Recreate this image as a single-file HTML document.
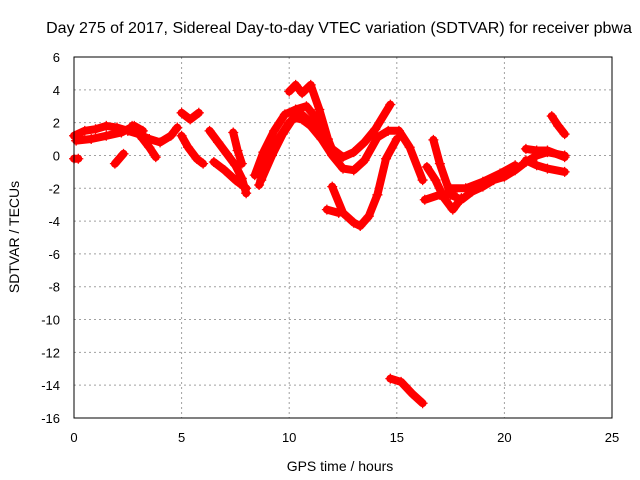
<!DOCTYPE html>
<html><head><meta charset="utf-8"><style>
body{margin:0;background:#fff}
svg{display:block;font-family:"Liberation Sans",sans-serif}
</style></head><body>
<svg id="chart" width="640" height="480" viewBox="0 0 640 480">
<text x="339" y="33" font-size="16" text-anchor="middle">Day 275 of 2017, Sidereal Day-to-day VTEC variation (SDTVAR) for receiver pbwa</text>
<text x="340" y="471" font-size="14" text-anchor="middle">GPS time / hours</text>
<text transform="translate(19,237) rotate(-90)" font-size="14" text-anchor="middle">SDTVAR / TECUs</text>
<g id="grid"></g><g id="marks"></g><g id="axes"></g>
</svg>
<script>
const xTicks=[0,5,10,15,20,25];
const yTicks=[6,4,2,0,-2,-4,-6,-8,-10,-12,-14,-16];
const arc1H=[0,0.5,1,1.5,2,2.5,3,3.5,4,4.5,4.8];
const arc1V=[1.2,1.5,1.6,1.8,1.7,1.5,1.3,1.0,0.8,1.2,1.7];
const arc2H=[0.1,0.8,1.5,2.2,2.8,3.2];
const arc2V=[0.9,1.0,1.2,1.4,1.8,1.5];
const arc3H=[0,0.2];const arc3V=[-0.2,-0.2];
const arc4H=[1.9,2.3];const arc4V=[-0.5,0.1];
const arc5H=[2.7,3.2,3.5,3.8];const arc5V=[1.8,1.0,0.5,-0.1];
const arc6H=[5,5.4,5.8];const arc6V=[2.6,2.2,2.6];
const arc7H=[5,5.3,5.7,6];const arc7V=[1.2,0.5,-0.2,-0.5];
const arc8H=[6.3,6.7,7.1,7.5,7.8,8.0];const arc8V=[1.5,0.8,0.1,-0.6,-1.4,-2.3];
const arc9H=[6.5,7,7.5,8];const arc9V=[-0.4,-0.9,-1.5,-2.0];
const arc10H=[7.4,7.6,7.8];const arc10V=[1.4,0.3,-0.5];
const arc11H=[8.6,9,9.5,10,10.5,11,11.5,12,12.5,13,13.5,14,14.7];
const arc11V=[-1.8,-0.3,1.0,2.0,2.6,2.0,1.2,0.4,-0.1,0.2,0.8,1.6,3.1];
const arc12H=[8.7,9.2,9.7,10.2,10.6,11.0,11.5,12.0,12.5,13.0,13.5,14.1,14.6,15.1,15.6,16.2];
const arc12V=[-1.5,0.0,1.3,2.3,2.2,1.8,1.0,0.0,-0.8,-0.9,-0.3,1.1,1.5,1.5,0.5,-1.5];
const arc13H=[10,10.3,10.6,11.0,11.4,11.8,12.2];
const arc13V=[3.9,4.3,3.8,4.3,2.8,1.0,-0.3];
const arc14H=[12.0,12.5,13.0,13.3,13.7,14.1,14.5,15.0];
const arc14V=[-1.9,-3.5,-4.1,-4.3,-3.7,-2.4,-0.2,1.0];
const arc15H=[11.75,12.3];const arc15V=[-3.3,-3.5];
const arc16H=[14.7,15.2,15.7,16.2];const arc16V=[-13.6,-13.8,-14.5,-15.1];
const arc17H=[16.7,17.0,17.5,18.0,18.5,19,19.5,20,20.5,21,21.5,22,22.8];
const arc17V=[0.95,-0.5,-2.4,-2.7,-2.2,-1.9,-1.5,-1.3,-0.9,-0.4,0.0,0.2,0.0];
const arc18H=[16.4,16.8,17.2,17.6,18.0];const arc18V=[-0.7,-1.5,-2.6,-3.3,-2.6];
const arc19H=[16.3,17.0,17.6];const arc19V=[-2.7,-2.4,-2.3];
const arc20H=[21,21.5,22,22.8];const arc20V=[-0.3,-0.6,-0.8,-1.0];
const arc21H=[21,21.5,22,22.8];const arc21V=[0.4,0.3,0.3,-0.1];
const arc22H=[22.2,22.5,22.8];const arc22V=[2.4,1.8,1.3];
const arc23H=[8.4,8.8,9.3,9.8,10.3,10.8,11.3,11.8];
const arc23V=[-1.2,0.2,1.5,2.5,2.8,3.0,2.2,0.8];
const arc24H=[17.5,18.2,19,19.8,20.5];
const arc24V=[-2.0,-2.0,-1.6,-1.1,-0.6];
const arcsH=[arc1H,arc2H,arc3H,arc4H,arc5H,arc6H,arc7H,arc8H,arc9H,arc10H,arc11H,arc12H,arc13H,arc14H,arc15H,arc16H,arc17H,arc18H,arc19H,arc20H,arc21H,arc22H,arc23H,arc24H];
const arcsV=[arc1V,arc2V,arc3V,arc4V,arc5V,arc6V,arc7V,arc8V,arc9V,arc10V,arc11V,arc12V,arc13V,arc14V,arc15V,arc16V,arc17V,arc18V,arc19V,arc20V,arc21V,arc22V,arc23V,arc24V];

const L=74,R=612,T=57,B=418,NS="http://www.w3.org/2000/svg";
const xs=h=>L+(h-0)/25*(R-L);
const ys=v=>T+(6-v)/22*(B-T);
function mk(tag,at,parent){const e=document.createElementNS(NS,tag);for(const k in at)e.setAttribute(k,at[k]);parent.appendChild(e);return e;}
const grid=document.getElementById('grid'),axes=document.getElementById('axes'),marks=document.getElementById('marks');
xTicks.forEach(t=>{
  const x=xs(t);
  if(t>0&&t<25){const g=mk('line',{x1:x,y1:T,x2:x,y2:B,stroke:'#a0a0a0','stroke-dasharray':'2,3'},grid);
  
  }
  const tx=mk('text',{x:x,y:B+24,'font-size':13,'text-anchor':'middle'},axes);tx.textContent=t;
  
  
});
yTicks.forEach(t=>{
  const y=ys(t);
  if(t<6&&t>-16){const g=mk('line',{x1:L,y1:y,x2:R,y2:y,stroke:'#a0a0a0','stroke-dasharray':'2,3'},grid);
  
  }
  const tx=mk('text',{x:L-14,y:y+5,'font-size':13,'text-anchor':'end'},axes);tx.textContent=t;
  
  
});
const box=mk('rect',{x:L,y:T,width:R-L,height:B-T,fill:'none',stroke:'#000','stroke-width':1},axes);


arcsH.forEach((hs,i)=>{
  const vs=arcsV[i];
  const pts=hs.map((h,j)=>xs(h).toFixed(1)+','+ys(vs[j]).toFixed(1)).join(' ');
  const pl=mk('polyline',{points:pts,fill:'none',stroke:'#ff0000','stroke-width':8,'stroke-linejoin':'round','stroke-linecap':'round'},marks);
  
  
  hs.forEach((h,j)=>{
    const x=xs(h),y=ys(vs[j]);
    const p=mk('path',{d:`M${x-5},${y}H${x+5}M${x},${y-5}V${y+5}`,stroke:'#ff0000','stroke-width':1.3},marks);
    
    
  });
});
</script>
</body></html>
